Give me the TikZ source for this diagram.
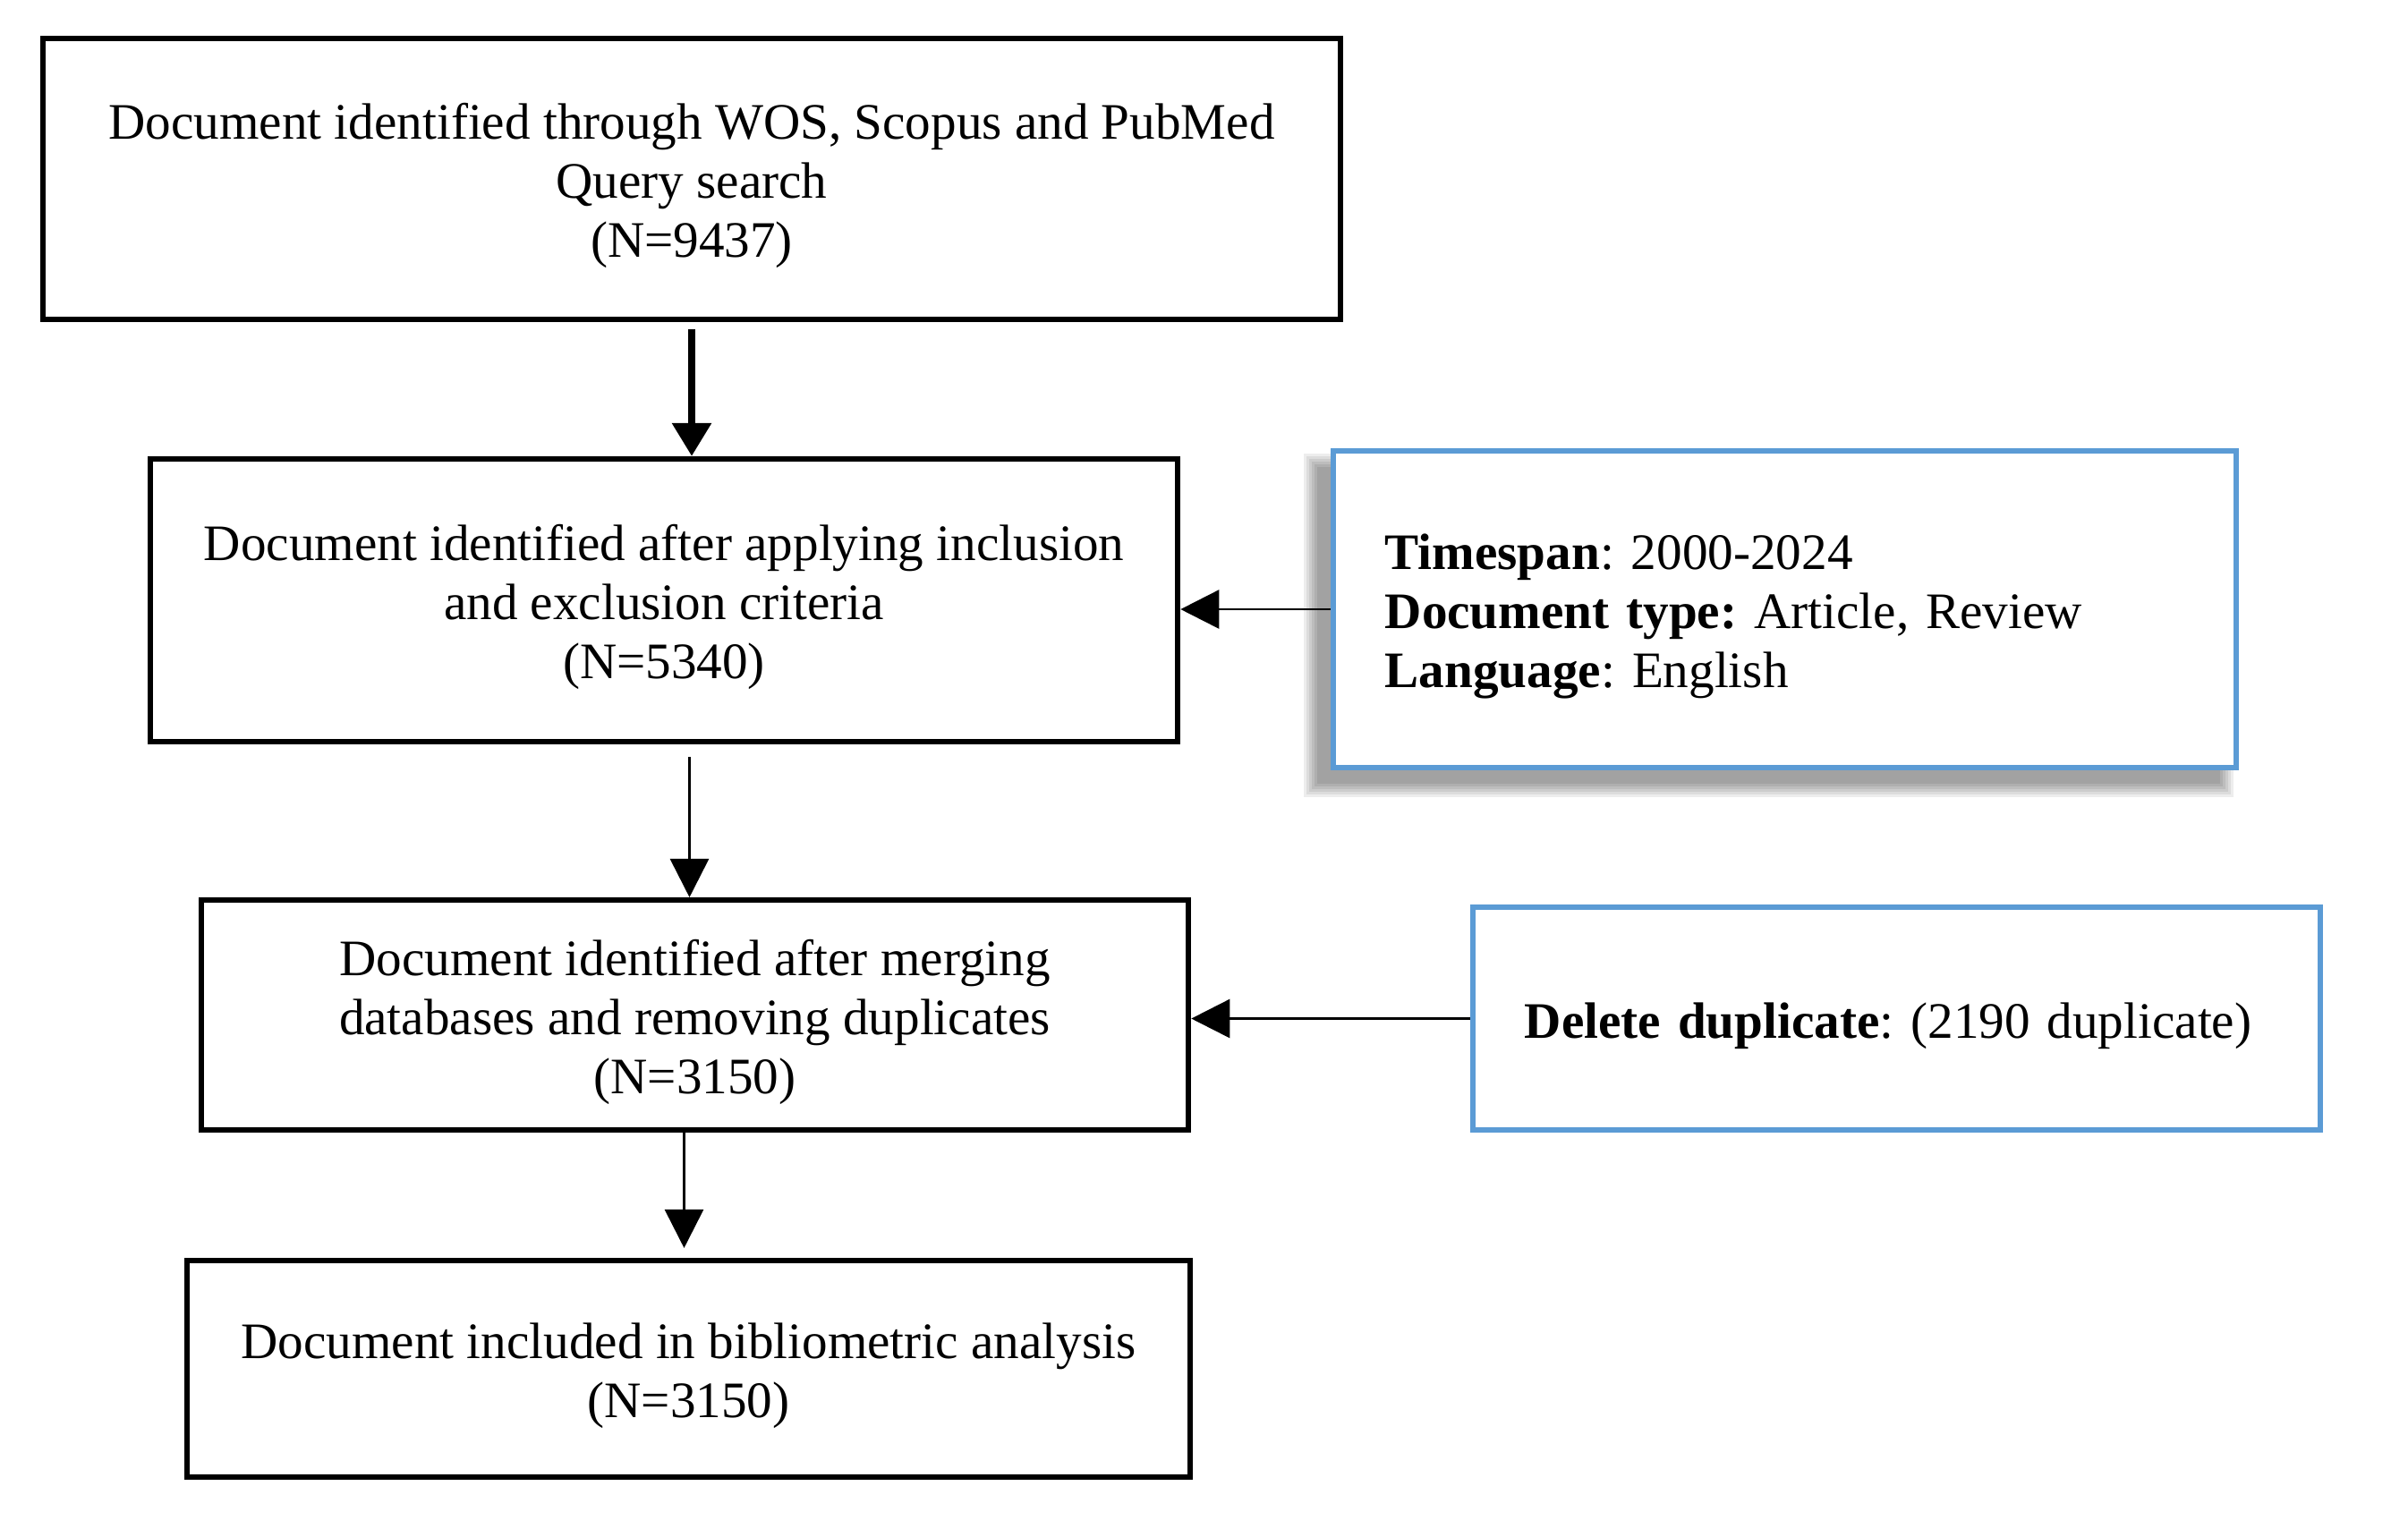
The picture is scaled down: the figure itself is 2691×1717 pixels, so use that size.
\documentclass[tikz,border=0pt]{standalone}
\usepackage{fontspec}
\setmainfont{Liberation Serif}
\usetikzlibrary{arrows.meta}
\definecolor{boxblue}{HTML}{5B9BD5}
\newcommand\mystrut{\rule{0pt}{15.8pt}}
\begin{document}
\frenchspacing
\begin{tikzpicture}[x=0.01cm,y=-0.01cm,
  txt/.style={font=\fontsize{16.25pt}{18.8pt}\selectfont\frenchspacing},
  blackbox/.style={draw=black, line width=1.7pt, fill=white, align=center, txt, inner sep=0pt},
  bluebox/.style={draw=boxblue, line width=1.8pt, fill=white, align=left, txt, inner xsep=0.58cm, inner ysep=0pt},
  thinarrow/.style={line width=0.8pt, -{Triangle[width=0.43cm,length=0.43cm]}},
  thickarrow/.style={line width=2.5pt, -{Triangle[width=0.42cm,length=0.37cm]}},
]
\fill[white] (0,0) rectangle (2691,1717);
\useasboundingbox (0,0) rectangle (2691,1717);

% soft shadow of the criteria box
\foreach \e in {0,3,...,15}
  \fill[black,opacity=0.07] ({1472-\e},{522-\e}) rectangle ({2481+\e},{876+\e});

\node[blackbox, minimum width=14.5cm, minimum height=3.14cm] (box1) at (773,200)
  {\mystrut Document identified through WOS, Scopus and PubMed\\Query search\\(N=9437)};
\node[blackbox, minimum width=11.48cm, minimum height=3.16cm] (box2) at (742,671)
  {\mystrut Document identified after applying inclusion\\and exclusion criteria\\(N=5340)};
\node[blackbox, minimum width=11.03cm, minimum height=2.57cm] (box3) at (776.5,1134.5)
  {\mystrut Document identified after merging\\databases and removing duplicates\\(N=3150)};
\node[blackbox, minimum width=11.21cm, minimum height=2.42cm] (box4) at (769.5,1530)
  {\mystrut Document included in bibliometric analysis\\(N=3150)};

\node[bluebox, text width=8.93cm, minimum height=3.54cm] (blue1) at (1994.5,681)
  {\mystrut\textbf{Timespan}: 2000-2024\\\textbf{Document type:} Article, Review\\\textbf{Language}: English};
\node[bluebox, text width=8.31cm, minimum height=2.49cm] (blue2) at (2119.5,1138.5)
  {\mystrut\textbf{Delete duplicate}: (2190 duplicate)};

\coordinate (a2) at ([xshift=-0.06cm]box3.north);
\coordinate (a3) at ([xshift=-0.05cm]box4.north);

\draw[thickarrow, shorten <=0.08cm] (box1.south) -- (box1.south |- box2.north);
\draw[thinarrow] (blue1.west) -- (blue1.west -| box2.east);
\draw[thinarrow, shorten <=0.14cm] (a2 |- box2.south) -- (a2);
\draw[thinarrow] (blue2.west) -- (blue2.west -| box3.east);
\draw[thinarrow, shorten >=0.11cm] (a3 |- box3.south) -- (a3);
\end{tikzpicture}
\end{document}
